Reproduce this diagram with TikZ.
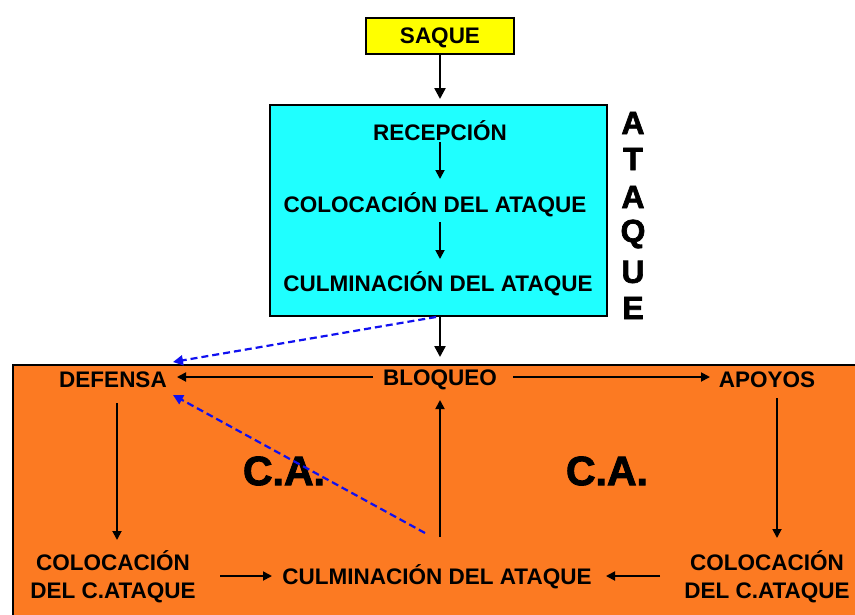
\documentclass[tikz,border=0pt]{standalone}
\usepackage{fontspec}
\setmainfont{Liberation Sans}
\newfontfamily\heavyfont{Liberation Sans}[BoldFeatures={FakeBold=2.2}]
\usetikzlibrary{arrows.meta}
\definecolor{cyanbox}{HTML}{1FFFFF}
\definecolor{orangebox}{HTML}{FC7A22}
\definecolor{yellowbox}{HTML}{FFFF00}
\definecolor{dashblue}{HTML}{1010F0}
\tikzset{
  lbl/.style={font=\bfseries\fontsize{22.5}{27}\selectfont, inner sep=1pt, align=center},
  big/.style={font=\heavyfont\bfseries\fontsize{32}{32}\selectfont, inner sep=0pt},
  ca/.style={font=\heavyfont\bfseries\fontsize{41}{41}\selectfont, inner sep=0pt},
  arr/.style={-{Triangle[length=9pt,width=9pt]}, line width=1.8pt},
  barr/.style={-{Triangle[length=11pt,width=11pt]}, line width=2.4pt},
  bluedash/.style={-{Triangle[length=10pt,width=10pt]}, line width=2.2pt, dashblue, dash pattern=on 7pt off 4pt},
}
\begin{document}
\begin{tikzpicture}[x=1pt,y=-1pt]
\useasboundingbox (0,0) rectangle (855,614);
% boxes
\fill[orangebox] (13,365) rectangle (870,630);
\draw[line width=1.6pt] (13,630) -- (13,365) -- (870,365);
\node[draw, line width=1.6pt, fill=yellowbox, minimum width=148pt, minimum height=36pt, inner sep=0pt, text depth=0pt, font=\bfseries\fontsize{22.5}{27}\selectfont] (saque) at (440,36) {SAQUE};
\node[draw, line width=1.6pt, fill=cyanbox, minimum width=337pt, minimum height=211pt, inner sep=0pt] (ataque) at (438.5,210.5) {};
% inner labels
\node[lbl] (rec) at (440,131) {RECEPCIÓN};
\node[lbl] (col) at (435,205) {COLOCACIÓN DEL ATAQUE};
\node[lbl] (cul) at (438,284) {CULMINACIÓN DEL ATAQUE};
% vertical ATAQUE
\node[big] (l1) at (633,123) {A};
\node[big] (l2) at (633,159) {T};
\node[big] (l3) at (633,197) {A};
\node[big] (l4) at (633,234) {Q};
\node[big] (l5) at (633,272) {U};
\node[big] (l6) at (633,308) {E};
% orange area labels
\node[lbl] (def) at (113,380) {DEFENSA};
\node[lbl] (blo) at (440,380) {BLOQUEO};
\node[lbl] (apo) at (767,380) {APOYOS};
\node[lbl, font=\bfseries\fontsize{22.5}{28}\selectfont] (colL) at (113,577) {COLOCACIÓN\\DEL C.ATAQUE};
\node[lbl] (culB) at (437,577) {CULMINACIÓN DEL ATAQUE};
\node[lbl, font=\bfseries\fontsize{22.5}{28}\selectfont] (colR) at (767,577) {COLOCACIÓN\\DEL C.ATAQUE};
\node[ca] (ca1) at (284,471) {C.A.};
\node[ca] (ca2) at (607,471) {C.A.};
% coordinates
\coordinate (saqueEnd) at (440,99);
\coordinate (ataBot) at (440,316);
\coordinate (bloTop) at (440,357);
\coordinate (dashA) at (436,317);
\coordinate (dashB) at (425,533);
\coordinate (defTip1) at (173,362);
\coordinate (defTip2) at (173,395);
\coordinate (recB) at (440,142);
\coordinate (colT) at (440,179);
\coordinate (colB) at (440,222);
\coordinate (culT) at (440,259);
\coordinate (bloW) at (373,377);
\coordinate (defE) at (177,377);
\coordinate (bloE) at (513,377);
\coordinate (apoW) at (710,377);
\coordinate (defS) at (117,403);
\coordinate (colLN) at (117,540);
\coordinate (apoS) at (777,398);
\coordinate (colRN) at (777,538);
\coordinate (colLE) at (220,576);
\coordinate (culBW) at (272,576);
\coordinate (colRW) at (660,576);
\coordinate (culBE) at (606,576);
\coordinate (culBN) at (440,537);
\coordinate (bloS) at (440,400);
% arrows
\draw[barr] (saque.south) -- (saqueEnd);
\draw[arr] (recB) -- (colT);
\draw[arr] (colB) -- (culT);
\draw[barr] (ataBot) -- (bloTop);
\draw[arr] (bloW) -- (defE);
\draw[arr] (bloE) -- (apoW);
\draw[arr] (defS) -- (colLN);
\draw[arr] (apoS) -- (colRN);
\draw[arr] (colLE) -- (culBW);
\draw[arr] (colRW) -- (culBE);
\draw[arr] (culBN) -- (bloS);
\draw[bluedash] (dashA) -- (defTip1);
\draw[bluedash] (dashB) -- (defTip2);
\end{tikzpicture}
\end{document}
